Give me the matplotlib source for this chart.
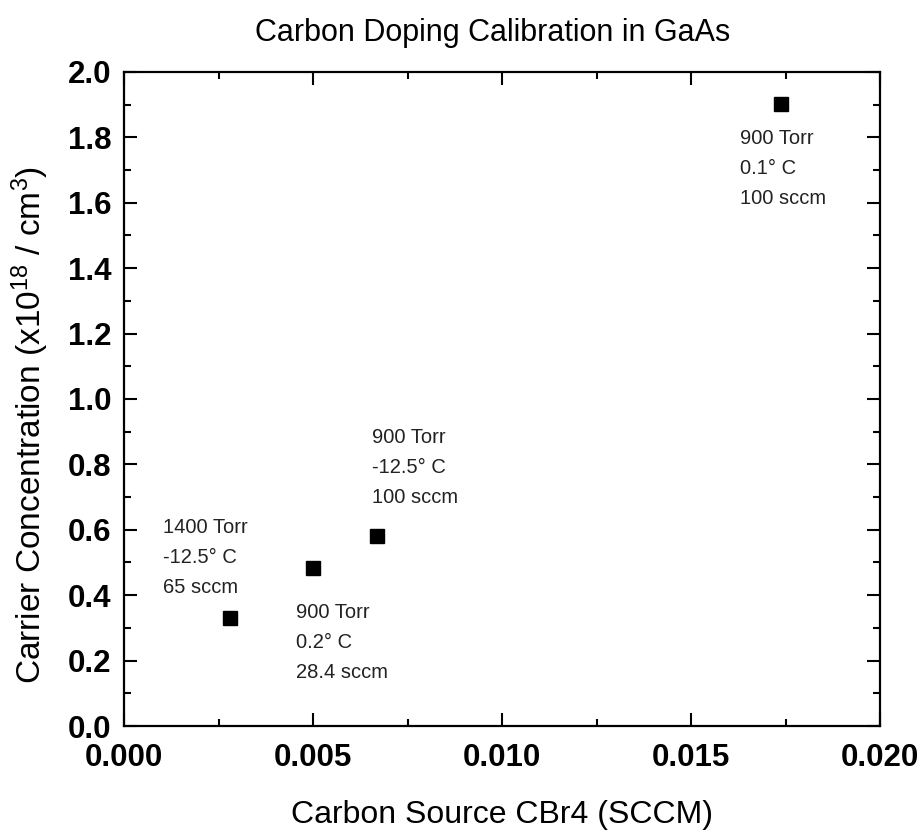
import matplotlib
matplotlib.use("Agg")
import matplotlib.pyplot as plt
from matplotlib.ticker import MultipleLocator, FormatStrFormatter

plt.rcParams['font.family'] = ['Liberation Sans', 'DejaVu Sans']
plt.rcParams['mathtext.fontset'] = 'custom'
plt.rcParams['mathtext.rm'] = 'Liberation Sans'
plt.rcParams['mathtext.it'] = 'Liberation Sans:italic'

x_cbr4 = [0.0028, 0.0050, 0.0067, 0.01738]
y_conc = [0.33, 0.483, 0.581, 1.902]
labels = ["1400 Torr\n-12.5° C\n65 sccm",
          "900 Torr\n0.2° C\n28.4 sccm",
          "900 Torr\n-12.5° C\n100 sccm",
          "900 Torr\n0.1° C\n100 sccm"]
label_pos = [(0.00103, 0.635), (0.00455, 0.375), (0.00655, 0.91), (0.0163, 1.825)]

fig = plt.figure(figsize=(9.22, 8.32), dpi=100)
ax = fig.add_axes([0.1345, 0.1274, 0.82, 0.7861])

ax.plot(x_cbr4, y_conc, linestyle='none', marker='s', markersize=9.5, color='black')
for (tx, ty), lab in zip(label_pos, labels):
    ax.text(tx, ty, lab, fontsize=14.5, va='top', ha='left', linespacing=1.72, color='#222222')

ax.set_xlim(0, 0.020)
ax.set_ylim(0, 2.0)
ax.xaxis.set_major_locator(MultipleLocator(0.005))
ax.xaxis.set_minor_locator(MultipleLocator(0.0025))
ax.yaxis.set_major_locator(MultipleLocator(0.2))
ax.yaxis.set_minor_locator(MultipleLocator(0.1))
ax.xaxis.set_major_formatter(FormatStrFormatter('%.3f'))
ax.yaxis.set_major_formatter(FormatStrFormatter('%.1f'))

ax.tick_params(which='both', direction='in', top=True, right=True, width=1.5)
ax.tick_params(which='major', length=9.5, labelsize=22.5)
ax.tick_params(axis='x', which='major', pad=12)
ax.tick_params(axis='y', which='major', pad=9)
ax.tick_params(which='minor', length=5)
for lab in ax.get_xticklabels() + ax.get_yticklabels():
    lab.set_fontweight('bold')
for sp in ax.spines.values():
    sp.set_linewidth(1.6)

ax.set_xlabel("Carbon Source CBr4 (SCCM)", fontsize=23, labelpad=20)
ax.set_ylabel(r"Carrier Concentration (x10$^{18}$ / cm$^{3}$)", fontsize=24)
ax.yaxis.set_label_coords(-0.097, 0.46)
ax.set_title("Carbon Doping Calibration in GaAs", fontsize=22, pad=22, x=0.487)

fig.savefig("out.png", dpi=100)
